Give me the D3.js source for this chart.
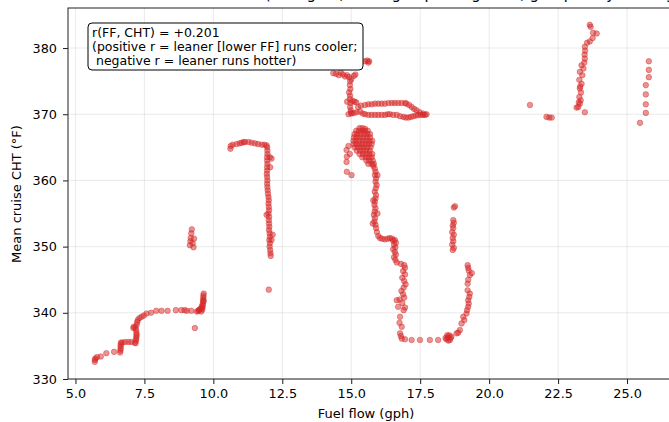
<!DOCTYPE html>
<html><head><meta charset="utf-8">
<script src="https://cdn.jsdelivr.net/npm/d3@7"></script>
<style>html,body{margin:0;padding:0;overflow:hidden;background:#fff;width:669px;height:422px}</style>
</head><body><div id="chart"></div>
<script>
// ---- data (fuel flow gph, mean cruise CHT °F) ----
const xTicks = [5.0, 7.5, 10.0, 12.5, 15.0, 17.5, 20.0, 22.5, 25.0];
const yTicks = [330, 340, 350, 360, 370, 380];
const titleText = "Cruise fuel flow vs mean cruise CHT (all flights, averaged per segment, grouped by leaning, by gph)";
const annotationLines = ["r(FF, CHT) = +0.201", "(positive r = leaner [lower FF] runs cooler;", " negative r = leaner runs hotter)"];

const segLowFF = [[5.70,332.6],[5.71,332.9],[5.72,333.1],[5.78,333.3],[5.92,333.4],[6.12,333.9],[6.40,334.1],[6.62,334.0],[6.63,334.3],[6.64,334.6],[6.64,334.9],[6.64,335.2],[6.65,335.5],[6.70,335.5],[6.80,335.6],[6.92,335.6],[7.02,335.6],[7.15,335.5],[7.18,335.4],[7.20,335.8],[7.20,336.1],[7.21,336.4],[7.22,336.7],[7.21,337.0],[7.20,337.4],[7.18,337.8],[7.12,337.9],[7.10,337.7],[7.22,338.2],[7.24,338.6],[7.26,338.9],[7.32,339.2],[7.40,339.4],[7.48,339.6],[7.58,339.9],[7.74,340.0],[7.93,340.3],[8.12,340.3],[8.34,340.3],[8.64,340.4],[8.84,340.4],[8.96,340.4],[9.04,340.3],[9.20,340.3],[9.33,337.7],[9.40,340.2],[9.45,340.3],[9.50,340.5],[9.55,340.6],[9.60,340.8],[9.62,341.1],[9.62,341.4],[9.63,341.7],[9.63,342.0],[9.64,342.3],[9.64,342.6],[9.65,342.9],[9.60,340.5],[9.58,341.0],[9.48,340.4],[9.56,340.2],[9.65,341.8]];
const segNine = [[9.15,350.2],[9.17,350.8],[9.18,351.3],[9.20,352.0],[9.22,352.6],[9.28,349.9],[9.25,350.5],[9.30,351.2]];
const segTwelve = [[10.62,364.8],[10.63,365.2],[10.70,365.4],[10.84,365.5],[10.95,365.6],[11.03,365.7],[11.10,365.8],[11.15,365.8],[11.28,365.8],[11.39,365.7],[11.51,365.6],[11.62,365.5],[11.75,365.4],[11.85,365.4],[11.93,365.3],[11.95,365.0],[11.96,364.5],[11.96,364.0],[11.95,363.5],[11.95,363.0],[11.96,362.5],[11.95,362.0],[11.95,361.5],[11.94,361.0],[11.95,360.5],[11.96,360.0],[11.95,359.5],[11.96,359.0],[11.97,358.5],[11.98,358.0],[12.00,357.5],[12.01,357.0],[12.00,356.5],[12.01,356.0],[12.02,355.5],[12.00,355.0],[11.93,354.8],[12.02,354.5],[12.01,354.0],[12.02,353.5],[12.03,353.0],[12.02,352.5],[12.04,352.0],[12.05,351.5],[12.03,351.0],[12.05,350.5],[12.04,350.0],[12.06,349.5],[12.07,349.0],[12.08,348.6],[12.01,343.5],[12.05,363.5],[12.06,362.0],[12.11,363.3],[12.15,351.8],[12.11,351.0]];
const segFifteenTop = [[14.35,376.2],[14.45,376.1],[14.55,375.9],[14.62,376.3],[14.70,376.0],[14.78,375.7],[14.85,375.9],[14.92,375.6],[15.00,375.3],[15.10,375.8],[15.15,376.0],[15.50,378.0],[15.58,378.1],[15.65,378.0],[15.62,377.8],[14.96,375.0],[14.95,374.4],[14.97,373.8],[14.92,373.3],[14.96,372.8],[14.95,372.3],[14.85,371.9],[14.97,371.7],[14.96,371.1],[14.98,370.6],[14.99,370.2],[14.90,370.0],[15.05,372.0],[15.12,371.9],[15.18,371.8],[15.25,371.1],[15.35,371.3],[15.50,371.4],[15.62,371.5],[15.74,371.5],[15.86,371.6],[15.98,371.6],[16.10,371.6],[16.22,371.6],[16.35,371.7],[16.47,371.7],[16.58,371.7],[16.70,371.7],[16.82,371.7],[16.95,371.7],[17.00,371.6],[17.10,371.4],[17.19,371.1],[17.28,370.8],[17.37,370.6],[17.48,370.3],[17.61,370.1],[17.73,370.0],[15.01,370.1],[15.10,370.2],[15.20,370.3],[15.32,370.4],[15.42,370.1],[15.50,370.0],[15.62,369.9],[15.74,369.9],[15.86,369.9],[15.98,369.9],[16.10,369.9],[16.22,369.9],[16.32,370.0],[16.40,370.0],[16.52,369.9],[16.65,369.9],[16.77,369.7],[16.89,369.6],[16.98,369.5],[17.07,369.5],[17.16,369.6],[17.25,369.7],[17.35,369.8],[17.43,369.9],[17.52,369.9],[17.61,369.9],[17.68,369.9]];
const segFifteenBlob = [[15.30,367.9],[15.40,367.9],[15.50,367.8],[15.18,367.5],[15.28,367.5],[15.40,367.5],[15.50,367.5],[15.60,367.5],[15.12,367.0],[15.22,367.0],[15.34,367.0],[15.46,367.0],[15.58,367.0],[15.68,367.0],[15.10,366.5],[15.20,366.5],[15.32,366.5],[15.44,366.5],[15.56,366.5],[15.68,366.5],[15.08,366.0],[15.18,366.0],[15.30,366.0],[15.42,366.0],[15.54,366.0],[15.66,366.0],[15.76,366.0],[15.08,365.5],[15.18,365.5],[15.29,365.5],[15.40,365.5],[15.52,365.5],[15.63,365.5],[15.74,365.5],[15.12,365.0],[15.24,365.0],[15.35,365.0],[15.46,365.0],[15.58,365.0],[15.70,365.0],[15.20,364.5],[15.32,364.5],[15.44,364.5],[15.55,364.5],[15.67,364.5],[15.30,364.0],[15.42,364.0],[15.54,364.0],[15.66,364.0],[15.76,364.0],[15.40,363.5],[15.52,363.5],[15.63,363.5],[15.74,363.5],[15.55,363.0],[15.66,363.0],[15.78,363.0],[15.62,362.5],[15.74,362.5],[15.82,362.5],[14.83,364.6],[14.84,363.6],[14.83,362.8],[14.84,361.3],[15.01,360.8],[14.90,365.2],[14.95,364.0]];
const segSixteen = [[15.80,362.2],[15.85,361.8],[15.88,361.3],[15.86,360.8],[15.90,360.3],[15.88,359.8],[15.92,359.3],[15.89,358.8],[15.85,358.3],[15.90,357.8],[15.88,357.3],[15.86,356.8],[15.84,356.3],[15.88,355.8],[15.85,355.3],[15.82,354.8],[15.86,354.3],[15.84,353.8],[15.88,353.3],[15.90,352.8],[15.93,352.2],[15.98,351.6],[16.04,351.3],[16.12,351.2],[16.22,351.1],[16.32,351.2],[16.40,351.3],[15.95,360.8],[15.80,357.0],[15.95,355.0],[15.78,353.5],[16.48,351.2],[16.52,350.9],[16.58,351.0],[16.62,350.6],[16.55,350.3],[16.60,349.9],[16.52,349.6],[16.58,349.2],[16.62,348.8],[16.55,348.4],[16.60,348.0],[16.65,347.6],[16.80,347.4],[16.92,347.2],[16.95,346.8],[16.88,346.3],[16.95,345.8],[16.85,345.3],[16.92,344.8],[16.97,344.3],[16.90,343.8],[16.82,343.3],[16.88,342.8],[16.92,342.3],[16.75,342.0],[16.85,341.5],[16.95,340.8],[16.90,340.4],[16.65,341.9],[16.70,340.9],[16.77,339.4],[16.83,337.9],[16.77,336.9],[16.83,336.1],[16.75,338.5],[16.80,336.5],[16.95,336.0],[17.19,335.9],[17.49,335.9],[17.85,335.9],[18.15,335.9]];
const segNineteen = [[18.45,336.0],[18.50,336.3],[18.55,336.6],[18.60,336.2],[18.48,336.6],[18.58,335.9],[18.63,336.4],[18.52,335.8],[18.42,336.2],[18.82,336.9],[18.94,337.4],[19.00,338.4],[19.06,339.4],[19.18,339.9],[19.24,340.9],[19.24,341.9],[19.30,342.9],[18.88,337.0],[19.10,338.9],[19.20,340.4],[19.26,341.4],[19.28,342.4],[19.22,343.4],[19.22,347.2],[19.24,346.8],[19.26,346.4],[19.37,346.0],[19.30,345.7],[19.24,345.0],[19.22,344.4],[18.76,356.1],[18.72,355.9],[18.70,354.0],[18.72,353.6],[18.68,353.2],[18.70,352.8],[18.66,352.2],[18.72,351.8],[18.68,351.3],[18.70,350.8],[18.66,350.3],[18.72,349.8],[18.68,349.5]];
const segTwentyTwo = [[21.48,371.4],[22.08,369.6],[22.18,369.5],[22.27,369.5]];
const segTwentyThree = [[23.65,383.5],[23.68,383.2],[23.77,382.3],[23.90,382.2],[23.75,381.5],[23.65,381.0],[23.55,380.8],[23.47,380.2],[23.48,379.6],[23.46,379.0],[23.47,378.4],[23.45,377.8],[23.35,377.4],[23.42,376.9],[23.29,376.4],[23.38,375.9],[23.27,375.2],[23.35,374.6],[23.29,373.9],[23.33,373.3],[23.27,372.6],[23.32,372.1],[23.29,371.6],[23.23,371.1],[23.17,371.0],[23.47,370.3],[23.25,371.8],[23.30,374.2]];
const segTwentyFive = [[25.79,378.0],[25.79,376.7],[25.79,375.6],[25.68,374.4],[25.68,373.0],[25.68,371.5],[25.68,370.2],[25.47,368.7]];

const allPoints = [].concat(segLowFF, segNine, segTwelve, segFifteenTop, segFifteenBlob, segSixteen, segNineteen, segTwentyTwo, segTwentyThree, segTwentyFive);

// ---- layout ----
const W = 700, H = 422;
const mLeft = 68, mTop = 8, mBottom = 379;
const font = "DejaVu Sans, sans-serif";
const x = d3.scaleLinear().domain([4.73, 27.0]).range([mLeft, mLeft + (27.0 - 4.73) * 27.58]);
const y = d3.scaleLinear().domain([330, 386.05]).range([mBottom, mTop]);
const mRight = x.range()[1];

const svg = d3.select("#chart").append("svg").attr("width", W).attr("height", H)
  .style("font-family", font);

// grid
svg.append("g").selectAll("line").data(xTicks).join("line")
  .attr("x1", d => x(d)).attr("x2", d => x(d)).attr("y1", mTop).attr("y2", mBottom)
  .attr("stroke", "#b0b0b0").attr("stroke-opacity", 0.3).attr("stroke-width", 0.9);
svg.append("g").selectAll("line").data(yTicks).join("line")
  .attr("x1", mLeft).attr("x2", mRight).attr("y1", d => y(d)).attr("y2", d => y(d))
  .attr("stroke", "#b0b0b0").attr("stroke-opacity", 0.3).attr("stroke-width", 0.9);

// points
svg.append("defs").append("clipPath").attr("id", "clip").append("rect")
  .attr("x", mLeft).attr("y", mTop).attr("width", mRight - mLeft).attr("height", mBottom - mTop);
svg.append("g").attr("clip-path", "url(#clip)").selectAll("circle").data(allPoints).join("circle")
  .attr("cx", d => x(d[0])).attr("cy", d => y(d[1])).attr("r", 2.8)
  .attr("fill", "#d62728").attr("fill-opacity", 0.5)
  .attr("stroke", "#d62728").attr("stroke-opacity", 0.5).attr("stroke-width", 0.8);

// axes
const xAxis = svg.append("g").attr("transform", `translate(0,${mBottom})`)
  .call(d3.axisBottom(x).tickValues(xTicks).tickFormat(d3.format(".1f")).tickSizeOuter(0).tickSize(5).tickPadding(5));
const yAxis = svg.append("g").attr("transform", `translate(${mLeft},0)`)
  .call(d3.axisLeft(y).tickValues(yTicks).tickFormat(d3.format("d")).tickSizeOuter(0).tickSize(5).tickPadding(6));
[xAxis, yAxis].forEach(a => {
  a.select(".domain").remove();
  a.selectAll("text").attr("font-size", 12.8).attr("font-family", font).attr("fill", "#000");
  a.selectAll(".tick line").attr("stroke", "#000").attr("stroke-width", 0.9);
});

// spines
svg.append("rect").attr("x", mLeft).attr("y", mTop).attr("width", mRight - mLeft).attr("height", mBottom - mTop)
  .attr("fill", "none").attr("stroke", "#222").attr("stroke-width", 1);

// labels
svg.append("text").attr("x", 366).attr("y", 418).attr("text-anchor", "middle")
  .attr("font-size", 13).text("Fuel flow (gph)");
svg.append("text").attr("transform", "translate(21,194) rotate(-90)").attr("text-anchor", "middle")
  .attr("font-size", 13).text("Mean cruise CHT (°F)");

// title (clipped by top of viewport, as in the reference)
svg.append("text").attr("x", 366).attr("y", -1).attr("text-anchor", "middle")
  .attr("font-size", 15).text(titleText);

// annotation box
const ann = svg.append("g");
ann.append("rect").attr("x", 88).attr("y", 23).attr("width", 275).attr("height", 47)
  .attr("rx", 4).attr("fill", "#fff").attr("stroke", "#000").attr("stroke-width", 1);
ann.selectAll("text").data(annotationLines).join("text")
  .attr("x", 92).attr("y", (d, i) => 37 + i * 14).attr("font-size", 12.5)
  .attr("xml:space", "preserve").style("white-space", "pre").text(d => d);
</script></body></html>
